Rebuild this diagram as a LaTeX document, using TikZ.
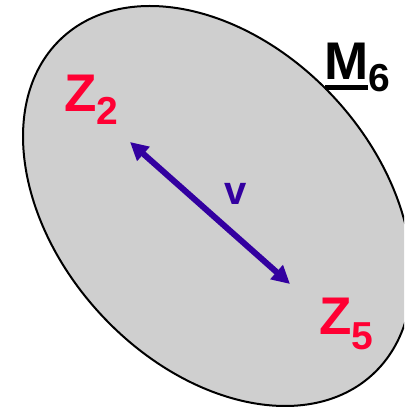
\documentclass[tikz,border=0pt]{standalone}
\usepackage{fontspec}
\setmainfont{Liberation Sans}
\usetikzlibrary{arrows.meta}
\definecolor{zred}{HTML}{FF0033}
\definecolor{vpurple}{HTML}{3300A0}
\definecolor{setgray}{HTML}{CFCFCF}
\tikzset{
  lbl/.style={inner sep=0pt, outer sep=0pt, anchor=base west, font=\bfseries\fontsize{53}{53}\selectfont},
  vecarrow/.style={vpurple, line width=6pt, arrows={Triangle[length=18pt,width=18pt]-Triangle[length=18pt,width=18pt]}}
}
\newcommand{\mysub}[2]{\raisebox{#1}{\fontsize{39}{39}\selectfont #2}}
\begin{document}
\begin{tikzpicture}[x=1pt,y=1pt]
\useasboundingbox (0,0) rectangle (404,409);
\clip (0,0) rectangle (404,409);
\draw[fill=setgray, line width=2pt, rotate around={-47.3:(217.5,203)}] (217.5,203) ellipse [x radius=229, y radius=159.3];
\node[lbl, text=zred] (z2) at (64,297) {Z\mysub{-13pt}{2}};
\node[lbl, text=zred] (z5) at (319,74) {Z\mysub{-15pt}{5}};
\node[lbl, text=black] (m6) at (324,329) {M\mysub{-12pt}{6}};
\draw[line width=5pt] (325,321.5) -- (368,321.5);
\node[lbl, text=vpurple, font=\bfseries\fontsize{40}{40}\selectfont] (v) at (224.5,204) {v};
\coordinate (a) at (130,267);
\coordinate (b) at (290,125);
\draw[vecarrow] (a) -- (b);
\end{tikzpicture}
\end{document}
